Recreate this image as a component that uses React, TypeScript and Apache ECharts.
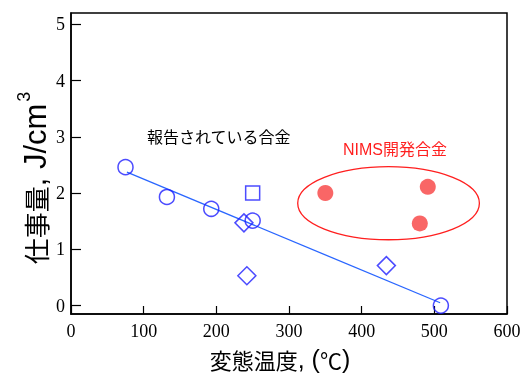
import React, { useEffect, useRef } from "react";
import * as echarts from "echarts";

const xTicks = [0, 100, 200, 300, 400, 500, 600];
const yTicks = [0, 1, 2, 3, 4, 5];
const circles = [
  [75, 2.46],
  [132, 1.93],
  [193, 1.72],
  [250, 1.51],
  [509, 0.0],
];
const diamonds = [
  [238, 1.47],
  [242, 0.53],
  [434, 0.71],
];
const squares = [[250, 2.0]];
const nims = [
  [350, 2.0],
  [491, 2.11],
  [480, 1.46],
];
const fitLine = [
  [77, 2.37],
  [508, 0.05],
];
// ellipse: center x, center y, radius x, radius y (data units)
const ellipse = [[437, 1.82, 125, 0.65]];

const BLUE = "#1f1fff";
const LINE_BLUE = "#2a66ff";
const RED = "#ff1f1f";
const RED_FILL = "#f84040";
const SANS = "'Liberation Sans', 'Noto Sans CJK JP', sans-serif";
const CJK = "'Noto Sans CJK JP', sans-serif";
const SERIF = "'Liberation Serif', serif";

export default function App() {
  const ref = useRef<HTMLDivElement>(null);
  useEffect(() => {
    if (!ref.current) return;
    const chart = echarts.init(ref.current, null, { renderer: "svg" });
    const hollow = { color: "transparent", borderColor: BLUE, borderWidth: 1.5 };
    chart.setOption({
      animation: false,
      grid: {
        left: 71,
        right: 17,
        top: 13,
        bottom: 60,
        show: true,
        borderColor: "#000",
        borderWidth: 1.5,
        backgroundColor: "transparent",
      },
      xAxis: {
        type: "value",
        min: 0,
        max: 600,
        interval: 100,
        axisLine: { show: true, onZero: false, lineStyle: { color: "#000", width: 1.5 } },
        axisTick: { show: true, inside: true, length: 8, lineStyle: { color: "#000", width: 1.2 } },
        axisLabel: {
          color: "#000",
          fontFamily: SERIF,
          fontSize: 18,
          margin: 8,
          customValues: xTicks,
        },
        splitLine: { show: false },
      },
      yAxis: {
        type: "value",
        min: -0.15,
        max: 5.2,
        axisLine: { show: true, onZero: false, lineStyle: { color: "#000", width: 1.5 } },
        axisTick: {
          show: true,
          inside: true,
          length: 10,
          lineStyle: { color: "#000", width: 1.2 },
          customValues: yTicks,
        },
        axisLabel: {
          color: "#000",
          fontFamily: SERIF,
          fontSize: 18,
          margin: 6,
          customValues: yTicks,
        },
        splitLine: { show: false },
      },
      graphic: [
        {
          type: "text",
          left: 147,
          top: 129,
          style: {
            text: "報告されている合金",
            fontFamily: SANS,
            fontSize: 16,
            fill: "#000",
          },
        },
        {
          type: "text",
          left: 343,
          top: 141,
          style: {
            text: "NIMS開発合金",
            fontFamily: SANS,
            fontSize: 16,
            fill: RED,
          },
        },
        {
          type: "text",
          x: 33,
          y: 178,
          rotation: Math.PI / 2,
          style: {
            text: "{c|仕事量}{l|, J/cm}{s|3}",
            align: "center",
            verticalAlign: "middle",
            rich: {
              c: { fontFamily: CJK, fontSize: 26, fill: "#000", lineHeight: 36, verticalAlign: "bottom", padding: [0, 0, 3, 0] },
              l: { fontFamily: SANS, fontSize: 31, fill: "#000", lineHeight: 36, verticalAlign: "bottom" },
              s: { fontFamily: SANS, fontSize: 18, fill: "#000", lineHeight: 36, verticalAlign: "top", padding: [0, 0, 0, 2] },
            },
          },
        },
        {
          type: "text",
          x: 280,
          y: 359,
          style: {
            text: "{c|変態温度}{l|, (}{c|℃}{l|)}",
            align: "center",
            verticalAlign: "middle",
            rich: {
              c: { fontFamily: CJK, fontSize: 22, fill: "#000", lineHeight: 24, verticalAlign: "middle" },
              l: { fontFamily: SANS, fontSize: 25, fill: "#000", lineHeight: 24, verticalAlign: "middle" },
            },
          },
        },
      ],
      series: [
        {
          type: "custom",
          encode: { x: 0, y: 1 },
          data: ellipse,
          renderItem: (params: any, api: any) => {
            const c = api.coord([api.value(0), api.value(1)]);
            const s = api.size([api.value(2), api.value(3)]);
            return {
              type: "ellipse",
              shape: { cx: c[0], cy: c[1], rx: s[0], ry: s[1] },
              style: { fill: "none", stroke: RED, lineWidth: 1.3 },
            };
          },
          z: 1,
        },
        {
          type: "line",
          data: fitLine,
          showSymbol: false,
          lineStyle: { color: LINE_BLUE, width: 1.3 },
          z: 2,
        },
        {
          type: "scatter",
          data: circles,
          symbol: "circle",
          symbolSize: 15,
          itemStyle: hollow,
          z: 3,
        },
        {
          type: "scatter",
          data: diamonds,
          symbol: "diamond",
          symbolSize: 18,
          itemStyle: hollow,
          z: 3,
        },
        {
          type: "scatter",
          data: squares,
          symbol: "rect",
          symbolSize: 14,
          itemStyle: hollow,
          z: 3,
        },
        {
          type: "scatter",
          data: nims,
          symbol: "circle",
          symbolSize: 16,
          itemStyle: { color: RED_FILL },
          z: 3,
        },
      ],
    });
    return () => chart.dispose();
  }, []);
  return (
    <div
      ref={ref}
      style={{ position: "fixed", left: 0, top: 0, width: 524, height: 374 }}
    />
  );
}
